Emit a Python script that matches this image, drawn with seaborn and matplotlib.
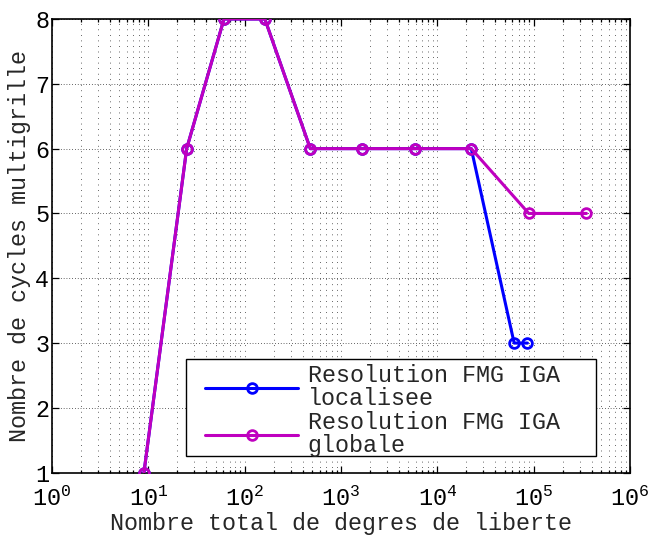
import numpy as np
import pandas as pd
import matplotlib
matplotlib.use("Agg")
import matplotlib.pyplot as plt
from matplotlib.patches import Rectangle
from matplotlib.ticker import LogLocator, NullFormatter, FixedLocator
import seaborn as sns

# Degrees of freedom and multigrid cycle counts for each solver variant
ddl_locale = [9, 25, 61, 162, 480, 1670, 5900, 22500, 62700, 86200]
cycles_locale = [1, 6, 8, 8, 6, 6, 6, 6, 3, 3]

ddl_globale = [9, 25, 61, 162, 480, 1670, 5900, 22500, 89000, 353000]
cycles_globale = [1, 6, 8, 8, 6, 6, 6, 6, 5, 5]

labels = ["Resolution FMG IGA\nlocalisee", "Resolution FMG IGA\nglobale"]
colors = ["#0000FF", "#BF00BF"]

xticks = [1e0, 1e1, 1e2, 1e3, 1e4, 1e5, 1e6]
yticks = [1, 2, 3, 4, 5, 6, 7, 8]

sns.set_style("ticks")
plt.rcParams["font.family"] = ["Liberation Mono", "DejaVu Sans"]
plt.rcParams["mathtext.fontset"] = "custom"
plt.rcParams["mathtext.rm"] = "Liberation Mono"
plt.rcParams["font.size"] = 16.8

df_loc = pd.DataFrame({"ddl": ddl_locale, "cycles": cycles_locale})
df_glo = pd.DataFrame({"ddl": ddl_globale, "cycles": cycles_globale})

fig = plt.figure(figsize=(6.55, 5.36), dpi=100)
ax = fig.add_axes([52 / 655, 1 - 472.7 / 536, 578 / 655, 453.7 / 536])

for df, lab, col in [(df_loc, labels[0], colors[0]), (df_glo, labels[1], colors[1])]:
    sns.lineplot(data=df, x="ddl", y="cycles", ax=ax, color=col, label=lab,
                 linewidth=2.2, marker="o", markersize=7,
                 markerfacecolor="none", markeredgecolor=col,
                 markeredgewidth=2.0, sort=False, estimator=None, zorder=3)

ax.set_xscale("log")
ax.set_xlim(1e0, 1e6)
ax.set_ylim(1, 8)
ax.xaxis.set_major_locator(FixedLocator(xticks))
ax.xaxis.set_minor_locator(LogLocator(base=10, subs=np.arange(2, 10), numticks=20))
ax.xaxis.set_minor_formatter(NullFormatter())
ax.set_yticks(yticks)

# dotted grid, minor included along x
ax.grid(True, which="major", axis="x", color="k", linewidth=0.7,
        linestyle=(0, (0.7, 5.0)), alpha=0.85)
ax.grid(True, which="minor", axis="x", color="k", linewidth=0.7,
        linestyle=(0, (0.7, 5.0)), alpha=0.85)
ax.grid(True, which="major", axis="y", color="k", linewidth=0.7,
        linestyle=(0, (0.7, 2.2)), alpha=0.85)

for s in ax.spines.values():
    s.set_visible(True)
    s.set_linewidth(1.2)
    s.set_color("k")

ax.tick_params(which="both", direction="in", top=True, right=True,
               colors="k", width=0.9)
ax.tick_params(which="major", length=5)
ax.tick_params(which="minor", length=2.5)
ax.tick_params(axis="x", which="major", pad=10)
ax.tick_params(axis="y", pad=2)

ax.set_xlabel("Nombre total de degres de liberte", labelpad=1)
ax.set_ylabel("Nombre de cycles multigrille")
ax.yaxis.set_label_coords(-0.036, 0.5)

# legend box with wide right margin
ax.add_patch(Rectangle((0.2318, 0.0368), 0.7093, 0.2138, transform=ax.transAxes,
                       facecolor="white", edgecolor="k", linewidth=1.0,
                       zorder=4.5, clip_on=False))
leg = ax.legend(loc="upper left", bbox_to_anchor=(0.2647, 0.240),
                borderaxespad=0, frameon=False,
                handlelength=4.0, handletextpad=0.4, labelspacing=0.05,
                borderpad=0.0, numpoints=1, fontsize=16.8)
leg.set_zorder(5)
for t in leg.get_texts():
    t.set_linespacing(1.0)

fig.savefig("out.png", dpi=100)
